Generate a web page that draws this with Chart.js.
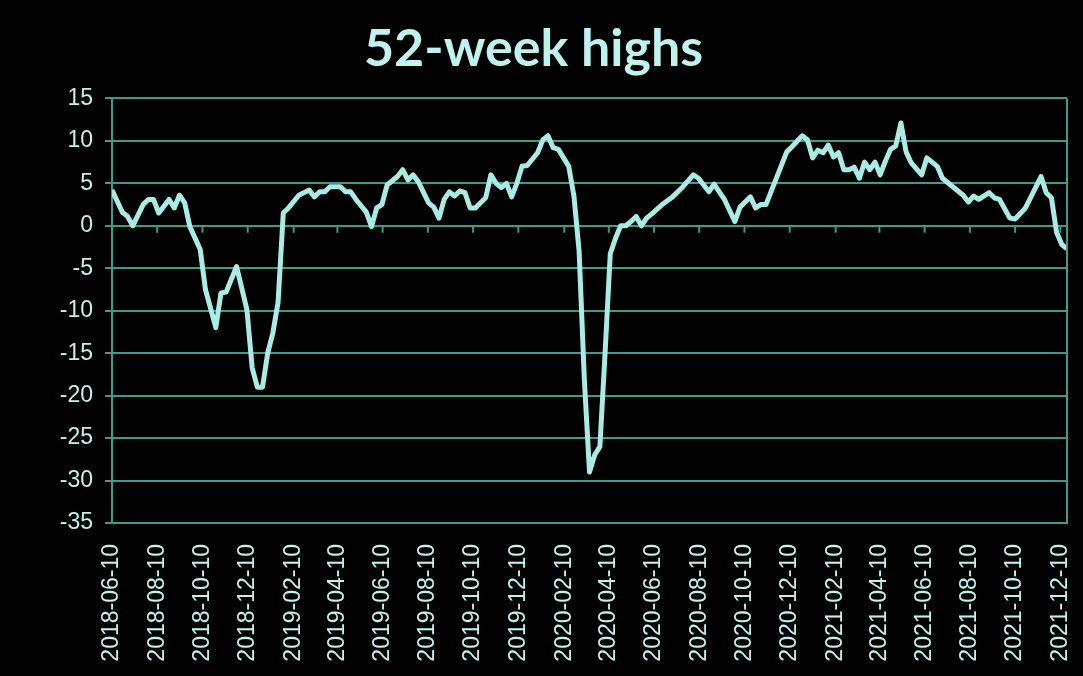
<!DOCTYPE html>
<html>
<head>
<meta charset="utf-8">
<script src="https://cdn.jsdelivr.net/npm/chart.js@4.4.1/dist/chart.umd.min.js"></script>
<style>
  html, body { margin: 0; padding: 0; background: #000; }
  #wrap { width: 1083px; height: 676px; }
</style>
</head>
<body>
<div id="wrap"><canvas id="chart"></canvas></div>
<script>
// weekly series, first week = 2018-06-10 (null = not read, line spans it)
var startDate = '2018-06-10';
var highs = [
  4.2, null, 1.6, 1.1, 0, null, 2.5, 3.1, 3.1, 1.5,
  null, 3.1, 2.1, 3.6, 2.7, -0.1, null, -2.8, -7.5, null,
  -12, -7.9, -7.8, null, -4.8, null, -9.9, -16.7, -19, -19,
  -15, -12.6, -9, 1.5, 2.1, null, 3.6, null, 4.2, 3.4,
  4, 4, 4.6, null, 4.6, 4, 4, 3.1, null, 1.6,
  -0.1, 2.1, 2.5, 4.8, null, 5.8, 6.6, 5.4, 6, 5.2,
  null, 2.7, 2.2, 0.9, 3.1, 4, 3.5, 4.1, 3.9, 2.1,
  2.1, null, 3.3, 6, 5, 4.5, 5, 3.4, 5, 7,
  7.1, null, 8.6, 10.1, 10.6, 9.2, 9, 8, 7, 3.5,
  -3, -18, -29, -27, -26, -15, -3.3, -1.5, 0, 0,
  0.5, 1.1, 0, 0.9, 1.4, null, 2.5, null, 3.4, null,
  4.6, null, 6, 5.6, 4.8, 4, 4.9, 4, 3.1, null,
  0.5, 2.2, null, 3.4, 2.1, 2.5, 2.5, null, null, null,
  8.7, 9.3, null, 10.6, 10.1, 8, 8.9, 8.6, 9.5, 8.1,
  8.6, 6.6, 6.6, 6.9, 5.6, 7.5, 6.6, 7.5, 6, 7.6,
  9.0, 9.4, 12.1, 8.7, 7.4, null, 6, 8, null, 7,
  5.6, null, 4.6, null, 3.6, 2.8, 3.5, 3.1, null, 3.9,
  3.3, 3.1, null, 0.9, 0.8, null, 2.1, null, null, 5.8,
  3.9, 3.3, -0.8, -2.2, -2.7
];
var tickDates = [
  '2018-06-10', '2018-08-10', '2018-10-10', '2018-12-10',
  '2019-02-10', '2019-04-10', '2019-06-10', '2019-08-10', '2019-10-10', '2019-12-10',
  '2020-02-10', '2020-04-10', '2020-06-10', '2020-08-10', '2020-10-10', '2020-12-10',
  '2021-02-10', '2021-04-10', '2021-06-10', '2021-08-10', '2021-10-10', '2021-12-10'
];

var lineColor = '#a9ece3';
var textColor = '#bff3ed';
var gridColor = '#3f9a8c';

function dayOf(s){
  var p = s.split('-');
  var a = Date.UTC(+p[0], +p[1] - 1, +p[2]);
  var q = startDate.split('-');
  var b = Date.UTC(+q[0], +q[1] - 1, +q[2]);
  return Math.round((a - b) / 86400000);
}

var points = [];
for (var i = 0; i < highs.length; i++) {
  points.push({x: i * 7, y: highs[i]});
}
var tickDays = tickDates.map(dayOf);

// frame on the right + small marks under the zero line
var framePlugin = {
  id: 'frame',
  afterDraw: function(chart){
    var ctx = chart.ctx, a = chart.chartArea;
    var xs = chart.scales.x, ys = chart.scales.y;
    ctx.save();
    ctx.strokeStyle = gridColor;
    ctx.lineWidth = 2;
    ctx.beginPath();
    ctx.moveTo(a.right, a.top);
    ctx.lineTo(a.right, a.bottom);
    var y0 = ys.getPixelForValue(0);
    tickDays.forEach(function(d){
      var px = xs.getPixelForValue(d);
      ctx.moveTo(px, y0);
      ctx.lineTo(px, y0 + 7);
    });
    ctx.stroke();
    ctx.restore();
  }
};

var ctx = document.getElementById('chart').getContext('2d');
new Chart(ctx, {
  type: 'line',
  data: {
    datasets: [{
      label: '52-week highs',
      data: points,
      borderColor: lineColor,
      borderWidth: 5,
      pointRadius: 0,
      tension: 0,
      spanGaps: true,
      borderJoinStyle: 'round'
    }]
  },
  options: {
    responsive: true,
    maintainAspectRatio: false,
    animation: false,
    layout: { padding: { left: 0, right: 16, top: 0, bottom: 0 } },
    plugins: {
      legend: { display: false },
      tooltip: { enabled: false },
      title: {
        display: true,
        text: '52-week highs',
        color: textColor,
        font: { family: 'Lato', size: 52, weight: 'bold', lineHeight: 1.2 },
        padding: { top: 18, bottom: 18 }
      }
    },
    scales: {
      x: {
        type: 'linear',
        min: 0,
        max: 1288,
        afterBuildTicks: function(scale){
          scale.ticks = tickDays.map(function(d){ return {value: d}; });
        },
        afterFit: function(scale){
          scale.height = 153;
          scale.paddingLeft = 0;
          scale.paddingRight = 0;
        },
        grid: { display: false },
        border: { display: true, color: gridColor, width: 2 },
        ticks: {
          autoSkip: false,
          minRotation: 90,
          maxRotation: 90,
          padding: 13,
          color: textColor,
          font: { family: 'Liberation Sans', size: 23 },
          callback: function(v){
            var k = tickDays.indexOf(v);
            return k >= 0 ? tickDates[k] : '';
          }
        }
      },
      y: {
        min: -35,
        max: 15,
        afterFit: function(scale){ scale.width = 112; },
        grid: { color: gridColor, lineWidth: 2, drawTicks: true, tickLength: 7 },
        border: { display: true, color: gridColor, width: 2 },
        ticks: {
          stepSize: 5,
          padding: 12,
          color: textColor,
          font: { family: 'Liberation Sans', size: 23 }
        }
      }
    }
  },
  plugins: [framePlugin]
});
</script>
</body>
</html>
